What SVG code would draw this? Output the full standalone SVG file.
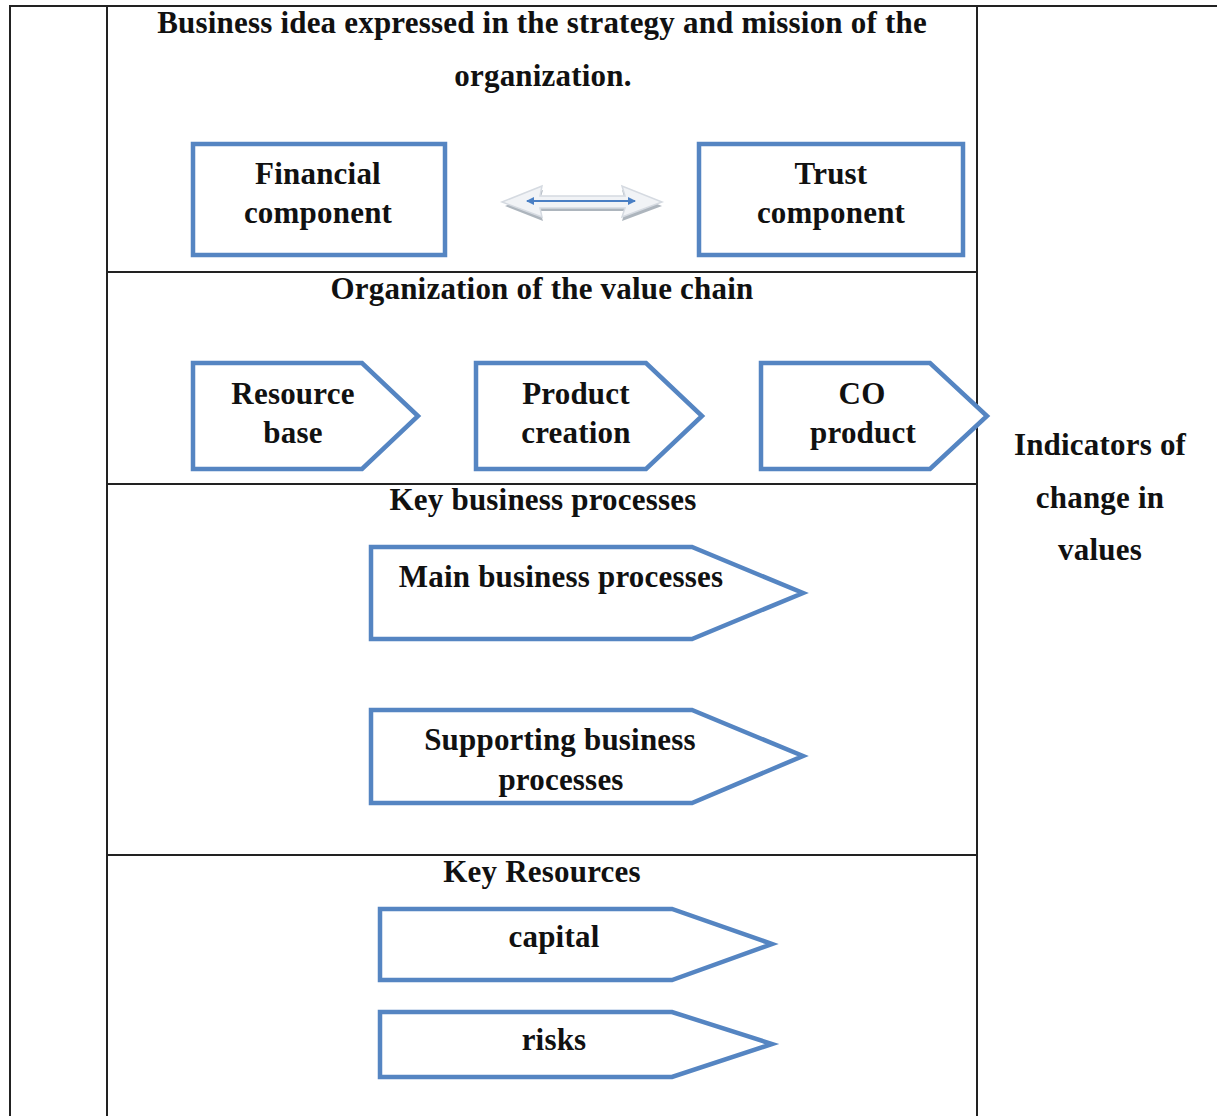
<svg xmlns="http://www.w3.org/2000/svg" width="1217" height="1116" viewBox="0 0 1217 1116">
<defs>
<style>
.t{font-family:"Liberation Serif","Times New Roman",serif;font-weight:bold;font-size:31px;letter-spacing:0.2px;fill:#111;text-anchor:middle}
.grid{stroke:#222;stroke-width:2;fill:none}
.box{fill:#fff;stroke:#5585c2;stroke-width:4.5;stroke-linejoin:miter}
</style>
<marker id="ah" markerWidth="8" markerHeight="8" refX="7" refY="4" orient="auto-start-reverse" markerUnits="userSpaceOnUse">
<path d="M0,0 L8,4 L0,8 z" fill="#4a7fc4"/>
</marker>
</defs>
<rect width="1217" height="1116" fill="#fff"/>
<g id="table" class="grid">
<line x1="9" y1="6" x2="1217" y2="6"/>
<line x1="10" y1="6" x2="10" y2="1116"/>
<line x1="107" y1="6" x2="107" y2="1116"/>
<line x1="977" y1="6" x2="977" y2="1116"/>
<line x1="107" y1="272" x2="977" y2="272"/>
<line x1="107" y1="484" x2="977" y2="484"/>
<line x1="107" y1="855" x2="977" y2="855"/>
</g>
<g id="headers">
<text class="t" x="542" y="33">Business idea expressed in the strategy and mission of the</text>
<text class="t" x="543" y="86">organization.</text>
<text class="t" x="542" y="299">Organization of the value chain</text>
<text class="t" x="543" y="510">Key business processes</text>
<text class="t" x="542" y="882">Key Resources</text>
</g>
<g id="indicators">
<text class="t" x="1100" y="455">Indicators of</text>
<text class="t" x="1100" y="508">change in</text>
<text class="t" x="1100" y="560">values</text>
</g>
<g id="financial">
<rect class="box" x="193" y="144" width="252" height="111"/>
<text class="t" x="318" y="184">Financial</text>
<text class="t" x="318" y="223">component</text>
</g>
<g id="trust">
<rect class="box" x="699" y="144" width="264" height="111"/>
<text class="t" x="831" y="184">Trust</text>
<text class="t" x="831" y="223">component</text>
</g>
<g id="connectors">
<polygon points="505,206 543,190 540,200 625,200 622,190 662,206 622,221 625,211 540,211 543,221" fill="#98a2ad" opacity="0.8"/>
<polygon points="502,202 542,186 540,196 625,196 622,186 662,202 622,217 625,208 540,208 542,217" fill="#f1f3f6" stroke="#d5dae1" stroke-width="1.5"/>
<line x1="527" y1="201" x2="635" y2="201" stroke="#4a7fc4" stroke-width="2" marker-start="url(#ah)" marker-end="url(#ah)"/>
</g>
<g id="resource-base">
<polygon class="box" points="193,363 362,363 418,416 362,469 193,469"/>
<text class="t" x="293" y="404">Resource</text>
<text class="t" x="293" y="443">base</text>
</g>
<g id="product-creation">
<polygon class="box" points="476,363 646,363 702,416 646,469 476,469"/>
<text class="t" x="576" y="404">Product</text>
<text class="t" x="576" y="443">creation</text>
</g>
<g id="co-product">
<polygon class="box" points="761,363 930,363 987,416 930,469 761,469"/>
<text class="t" x="862" y="404">CO</text>
<text class="t" x="863" y="443">product</text>
</g>
<g id="main-processes">
<polygon class="box" points="371,547 692,547 803,593 692,639 371,639"/>
<text class="t" x="561" y="587">Main business processes</text>
</g>
<g id="supporting-processes">
<polygon points="371,710 692,710 803,756 692,803 371,803" fill="#fff"/>
<text class="t" x="560" y="750">Supporting business</text>
<text class="t" x="561" y="790">processes</text>
<polygon class="box" style="fill:none" points="371,710 692,710 803,756 692,803 371,803"/>
</g>
<g id="capital">
<polygon class="box" points="380,909 672,909 772,944 672,980 380,980"/>
<text class="t" x="554" y="947">capital</text>
</g>
<g id="risks">
<polygon class="box" points="380,1012 672,1012 772,1044 672,1077 380,1077"/>
<text class="t" x="554" y="1050">risks</text>
</g>
</svg>
